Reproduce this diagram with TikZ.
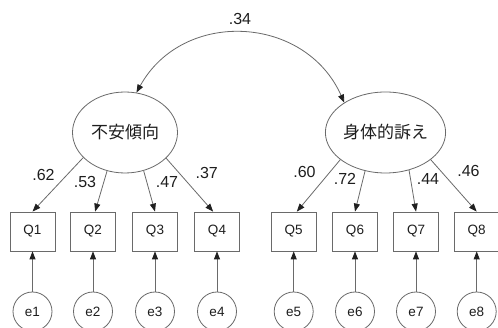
\documentclass[tikz,border=0pt]{standalone}
\usepackage{fontspec}
\setmainfont{Liberation Sans}
\newfontfamily\jp{Noto Sans CJK JP}
\usetikzlibrary{arrows.meta,shapes.geometric}
\definecolor{ln}{HTML}{6A6A6A}
\definecolor{hd}{HTML}{202020}
\definecolor{tx}{HTML}{1E1E1E}
\tikzset{
  factor/.style={ellipse,draw=ln,line width=0.8pt,minimum width=105pt,minimum height=81pt,inner sep=0pt,text=tx,font=\jp\fontsize{17}{19}\selectfont},
  obs/.style={rectangle,draw=ln,line width=0.8pt,minimum width=45pt,minimum height=39pt,inner sep=0pt,text=tx,font=\fontsize{13.5}{15}\selectfont},
  err/.style={circle,draw=ln,line width=0.8pt,minimum size=39pt,inner sep=0pt,text=tx,font=\fontsize{13.5}{15}\selectfont},
  lbl/.style={inner sep=0pt,text=tx,font=\fontsize{16}{18}\selectfont},
  arr/.style={draw=ln,line width=0.8pt,-{Triangle[length=8pt,width=6pt,color=hd]}},
  darr/.style={draw=ln,line width=0.8pt,{Triangle[length=8pt,width=6pt,color=hd]}-{Triangle[length=8pt,width=6pt,color=hd]}}
}
\begin{document}
\begin{tikzpicture}[x=1pt,y=1pt]
\useasboundingbox (0,0) rectangle (498,-328);
\fill[white] (0,0) rectangle (498,-328);
% factors
\node[factor] (f1) at (125,-132.5) {不安傾向};
\node[factor] (f2) at (385.5,-132.5) {身体的訴え};
% observed
\node[obs] (q1) at (32.5,-231.5) {Q1};
\node[obs] (q2) at (93,-231.5) {Q2};
\node[obs] (q3) at (155,-231.5) {Q3};
\node[obs] (q4) at (217,-231.5) {Q4};
\node[obs] (q5) at (293.7,-231.5) {Q5};
\node[obs] (q6) at (355,-231.5) {Q6};
\node[obs] (q7) at (416,-231.5) {Q7};
\node[obs] (q8) at (476.7,-231.5) {Q8};
% errors
\node[err] (e1) at (32.5,-311.5) {e1};
\node[err] (e2) at (93,-311.5) {e2};
\node[err] (e3) at (155,-311.5) {e3};
\node[err] (e4) at (217,-311.5) {e4};
\node[err] (e5) at (293.7,-311.5) {e5};
\node[err] (e6) at (355,-311.5) {e6};
\node[err] (e7) at (416,-311.5) {e7};
\node[err] (e8) at (476.7,-311.5) {e8};
% covariance
\draw[darr] (f1.74) to[out=61,in=114,looseness=1.18] (f2.144);
\node[lbl] (c12) at (240,-18.5) {.34};
% loadings
\draw[arr] (f1.211) -- (q1.north);
\draw[arr] (f1.245) -- (q2.84);
\draw[arr] (f1.296) -- (q3.north);
\draw[arr] (f1.328) -- (q4.101);
\draw[arr] (f2.211) -- (q5.81);
\draw[arr] (f2.242) -- (q6.north);
\draw[arr] (f2.302) -- (q7.north);
\draw[arr] (f2.329) -- (q8.north);
\node[lbl] (l1) at (43.5,-174.5) {.62};
\node[lbl] (l2) at (85,-182) {.53};
\node[lbl] (l3) at (167,-182) {.47};
\node[lbl] (l4) at (206.7,-172.5) {.37};
\node[lbl] (l5) at (304.5,-171.5) {.60};
\node[lbl] (l6) at (345,-179) {.72};
\node[lbl] (l7) at (428,-179) {.44};
\node[lbl] (l8) at (468.5,-170.5) {.46};
% errors to observed
\foreach \i in {1,...,8} {\draw[arr] (e\i) -- (q\i);}
\end{tikzpicture}
\end{document}
